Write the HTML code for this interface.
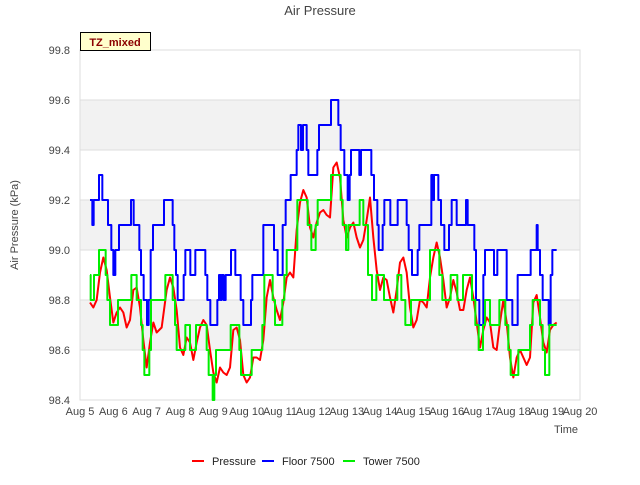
<!DOCTYPE html>
<html><head><meta charset="utf-8"><style>
body{margin:0;background:#fff;font-family:"Liberation Sans",sans-serif}
svg text{font-family:"Liberation Sans",sans-serif}
</style></head><body>
<svg id="chart" width="640" height="480" xmlns="http://www.w3.org/2000/svg">
<rect width="640" height="480" fill="#fff"/>
<text x="320" y="15" text-anchor="middle" font-size="13" fill="#444">Air Pressure</text>
<g id="bands"></g><g id="grid"></g>
<rect x="80" y="50" width="500" height="350" fill="none" stroke="#ddd"/>
<g id="yticks"></g><g id="xticks"></g>
<text transform="translate(18,225) rotate(-90)" text-anchor="middle" font-size="11" fill="#444">Air Pressure (kPa)</text>
<text x="566" y="433" text-anchor="middle" font-size="11" fill="#444">Time</text>
<g id="series"></g>
<g>
<rect x="80.5" y="32.5" width="70" height="18" fill="#ffffcc" stroke="#000"/>
<text x="115" y="46" text-anchor="middle" font-size="11" font-weight="bold" fill="#8b0000">TZ_mixed</text>
</g>
<g>
<g><line x1="192" y1="461" x2="204" y2="461" stroke="#f00" stroke-width="2"/><text x="212" y="465" font-size="11" fill="#222">Pressure</text></g>
<g><line x1="262" y1="461" x2="274" y2="461" stroke="#00f" stroke-width="2"/><text x="282" y="465" font-size="11" fill="#222">Floor 7500</text></g>
<g><line x1="343" y1="461" x2="355" y2="461" stroke="#0e0" stroke-width="2"/><text x="363" y="465" font-size="11" fill="#222">Tower 7500</text></g>
</g>
</svg>
<script>
const xTickLabels=["Aug 5","Aug 6","Aug 7","Aug 8","Aug 9","Aug 10","Aug 11","Aug 12","Aug 13","Aug 14","Aug 15","Aug 16","Aug 17","Aug 18","Aug 19","Aug 20"];
const yTickValues=[98.4,98.6,98.8,99.0,99.2,99.4,99.6,99.8];
const pressureDays=[0.3,0.4,0.5,0.6,0.7,0.8,0.9,1.0,1.1,1.2,1.3,1.4,1.5,1.6,1.7,1.8,1.9,2.0,2.1,2.2,2.3,2.45,2.6,2.7,2.8,2.9,3.0,3.1,3.2,3.3,3.4,3.5,3.6,3.7,3.8,3.9,4.0,4.1,4.2,4.3,4.4,4.5,4.6,4.7,4.8,4.9,5.0,5.1,5.2,5.3,5.4,5.5,5.6,5.7,5.8,5.9,6.0,6.1,6.2,6.3,6.4,6.5,6.6,6.7,6.8,6.9,7.0,7.1,7.2,7.3,7.4,7.5,
7.6,7.7,7.8,7.9,8.0,8.1,8.2,8.3,8.4,8.5,8.6,8.7,8.8,8.9,9.0,9.1,9.2,9.3,9.4,9.5,9.6,9.7,9.8,9.9,10.0,10.1,10.2,10.3,10.4,10.5,10.6,10.7,10.8,10.9,11.0,11.1,11.2,11.3,11.4,11.5,11.6,11.7,11.8,11.9,12.0,12.1,12.2,12.3,12.4,12.5,12.6,12.7,12.8,12.9,13.0,13.1,13.2,13.3,13.4,13.5,13.6,13.7,13.8,13.9,14.0,14.1,14.2,14.3];
const pressureVals=[98.79,98.77,98.80,98.91,98.97,98.92,98.81,98.71,98.75,98.77,98.75,98.69,98.72,98.84,98.85,98.77,98.64,98.53,98.63,98.71,98.67,98.69,98.84,98.89,98.85,98.76,98.61,98.58,98.65,98.63,98.56,98.63,98.69,98.72,98.70,98.60,98.51,98.47,98.53,98.51,98.50,98.53,98.68,98.69,98.64,98.50,98.47,98.49,98.57,98.57,98.56,98.64,98.81,98.88,98.81,98.76,98.72,98.79,98.89,98.91,98.89,99.08,99.19,99.24,99.21,99.09,99.05,99.11,99.15,99.16,99.14,99.13,
99.33,99.35,99.29,99.12,99.05,99.09,99.11,99.05,99.01,99.04,99.12,99.21,99.05,98.92,98.84,98.89,98.88,98.81,98.75,98.84,98.95,98.97,98.91,98.77,98.69,98.72,98.80,98.79,98.77,98.89,98.97,99.03,98.97,98.88,98.77,98.81,98.88,98.83,98.76,98.76,98.84,98.89,98.81,98.71,98.61,98.68,98.73,98.71,98.61,98.60,98.71,98.80,98.71,98.57,98.49,98.57,98.60,98.57,98.54,98.57,98.79,98.82,98.73,98.63,98.59,98.68,98.70,98.71];
const floorDays=[0.30,0.37,0.41,0.57,0.67,0.84,0.94,1.00,1.06,1.17,1.53,1.61,1.78,1.83,1.91,2.01,2.06,2.12,2.19,2.52,2.78,2.83,2.88,2.93,3.11,3.16,3.31,3.46,3.76,3.82,3.91,4.12,4.17,4.22,4.25,4.31,4.37,4.53,4.66,4.82,4.90,5.13,5.17,5.50,5.82,5.93,6.08,6.17,6.32,6.50,6.55,6.63,6.69,6.80,6.85,7.12,7.17,7.53,7.75,7.82,7.93,8.03,8.09,8.13,8.38,8.43,8.74,8.82,8.92,8.96,9.08,9.13,9.31,9.53,9.80,9.86,9.96,10.13,10.18,10.54,10.59,10.62,10.75,10.83,10.93,11.07,11.15,11.30,11.58,11.63,11.83,11.88,11.98,12.10,12.15,12.42,12.52,12.80,12.97,13.13,13.52,13.70,13.73,13.80,13.88,14.06,14.12,14.17,14.30];
const floorVals=[99.2,99.1,99.2,99.3,99.2,99.1,99.0,98.9,99.0,99.1,99.2,99.1,99.0,98.9,98.8,98.7,98.8,99.0,99.1,99.2,99.1,99.0,98.9,98.8,98.9,99.0,98.9,99.0,98.9,98.8,98.7,98.8,98.9,98.8,98.9,98.8,98.9,99.0,98.9,98.8,98.7,98.8,98.9,99.1,99.0,98.9,99.1,99.2,99.3,99.4,99.5,99.4,99.5,99.4,99.3,99.4,99.5,99.6,99.5,99.4,99.3,99.2,99.3,99.4,99.3,99.4,99.3,99.2,99.1,99.0,99.1,99.2,99.1,99.2,99.1,99.0,98.9,99.0,99.1,99.3,99.2,99.3,99.2,99.1,99.0,99.1,99.2,99.1,99.2,99.1,99.0,98.8,98.7,98.9,99.0,98.9,99.0,98.8,98.7,98.9,99.0,99.1,99.0,98.9,98.8,98.7,98.9,99.0,99.0];
const towerDays=[0.30,0.32,0.42,0.57,0.77,0.82,0.90,1.14,1.54,1.70,1.83,1.88,1.93,2.08,2.13,2.56,2.78,2.85,2.90,3.16,3.30,3.48,3.80,3.86,3.98,4.03,4.08,4.52,4.78,4.83,5.15,5.47,5.53,5.78,5.85,6.07,6.13,6.20,6.52,6.83,6.94,7.07,7.13,7.53,7.82,7.88,7.98,8.05,8.39,8.50,8.64,8.76,8.89,9.12,9.52,9.64,9.76,9.93,10.00,10.50,10.78,10.87,11.12,11.32,11.49,11.76,11.86,11.96,12.09,12.15,12.30,12.58,12.76,12.85,12.92,13.15,13.50,13.58,13.80,13.88,13.95,14.08,14.30];
const towerVals=[98.9,98.8,98.9,99.0,98.9,98.8,98.7,98.8,98.9,98.8,98.7,98.6,98.5,98.6,98.8,98.9,98.8,98.7,98.6,98.7,98.6,98.7,98.6,98.5,98.4,98.5,98.6,98.7,98.6,98.5,98.6,98.7,98.9,98.8,98.7,98.8,98.9,99.0,99.2,99.1,99.0,99.1,99.2,99.3,99.2,99.1,99.0,99.1,99.2,99.1,98.9,98.8,98.9,98.8,98.9,98.8,98.7,98.8,98.8,99.0,98.9,98.8,98.9,98.8,98.9,98.8,98.7,98.6,98.7,98.8,98.7,98.8,98.7,98.6,98.5,98.6,98.7,98.8,98.7,98.6,98.5,98.7,98.7];

const NS="http://www.w3.org/2000/svg";
const X0=80,X1=580,Y0=400,Y1=50,YMIN=98.4,YMAX=99.8,DAYS=15;
const xs=d=>X0+d*(X1-X0)/DAYS;
const ys=v=>Y0-(v-YMIN)*(Y0-Y1)/(YMAX-YMIN);
function mk(tag,attrs,parent){const e=document.createElementNS(NS,tag);for(const k in attrs)e.setAttribute(k,attrs[k]);parent.appendChild(e);return e;}
const bands=document.getElementById('bands'),grid=document.getElementById('grid');
for(let i=0;i<yTickValues.length-1;i++){
  if(i%2===1){const r=mk('rect',{x:X0,y:ys(yTickValues[i+1]),width:X1-X0,height:ys(yTickValues[i])-ys(yTickValues[i+1]),fill:'#f2f2f2'},bands);
  
  }
}
const yt=document.getElementById('yticks');
yTickValues.forEach(v=>{
  const l=mk('line',{x1:X0,x2:X1,y1:ys(v),y2:ys(v),stroke:'#ddd'},grid);
  
  
  const t=mk('text',{x:70,y:ys(v)+4,'text-anchor':'end','font-size':'11',fill:'#444'},yt);
  t.textContent=v.toFixed(1);
  
  
});
const xt=document.getElementById('xticks');
xTickLabels.forEach((s,i)=>{
  const t=mk('text',{x:xs(i),y:415,'text-anchor':'middle','font-size':'11',fill:'#444'},xt);
  t.textContent=s;
  
  
});
const ser=document.getElementById('series');
function line(days,vals,color,name,step){
  let pts=[];
  for(let i=0;i<days.length;i++){
    if(step&&i>0)pts.push(xs(days[i])+','+ys(vals[i-1]));
    pts.push(xs(days[i])+','+ys(vals[i]));
  }
  const p=mk('polyline',{points:pts.join(' '),fill:'none',stroke:color,'stroke-width':2,'stroke-linejoin':'round'},ser);
  
  
}
line(floorDays,floorVals,'#0000ff','floor-7500-line',true);
line(pressureDays,pressureVals,'#ff0000','pressure-line',false);
line(towerDays,towerVals,'#00ee00','tower-7500-line',true);
</script>
</body></html>
